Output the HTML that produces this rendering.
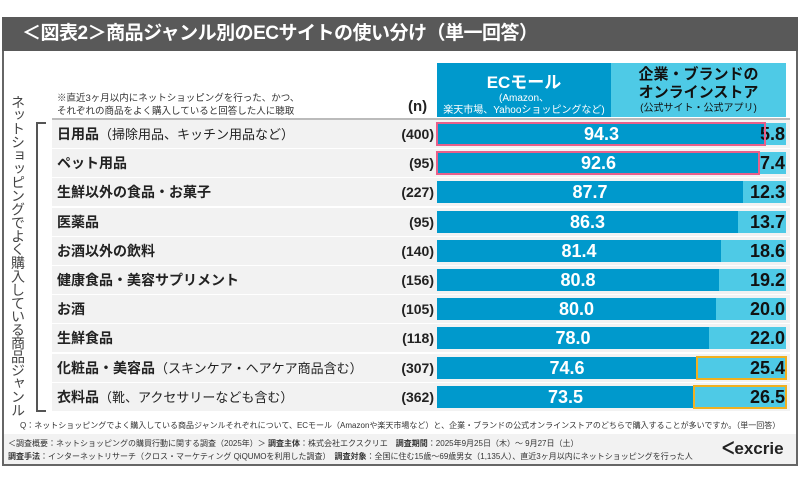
<!DOCTYPE html>
<html><head><meta charset="utf-8"><style>
*{margin:0;padding:0;box-sizing:border-box}
body{width:800px;height:488px;background:#fff;font-family:"Liberation Sans","Noto Sans CJK JP",sans-serif;position:relative;overflow:hidden;color:#222}
.a{position:absolute}
.frame{left:2px;top:17px;width:796px;height:449px;border:2px solid #666;background:#fff}
.title{left:2px;top:17px;width:796px;height:34px;background:#595959;color:#fff;font-size:19px;font-weight:bold;line-height:34px;padding-left:20px;letter-spacing:-0.5px}
.row{left:52px;width:738px;height:28px;background:#f2f2f2}
.lab{left:57px;font-size:14px;font-weight:bold;line-height:28px;white-space:nowrap}
.lab span{font-weight:normal;font-size:13px}
.n{left:360px;width:74px;text-align:right;font-size:14px;font-weight:bold;line-height:28px}
.d{background:#0099cc;color:#fff;font-size:18px;font-weight:bold;text-align:center;line-height:22px;height:22px}
.l{background:#4ecae6;color:#111;font-size:18px;font-weight:bold;text-align:right;line-height:22px;height:22px;padding-right:1px;overflow:visible;white-space:nowrap}
</style></head><body>
<div class="a frame"></div>
<div class="a title">＜図表2＞商品ジャンル別のECサイトの使い分け（単一回答）</div>
<div class="a" style="left:57px;top:92px;font-size:9.5px;line-height:13px;color:#333">※直近3ヶ月以内にネットショッピングを行った、かつ、<br>それぞれの商品をよく購入していると回答した人に聴取</div>
<div class="a" style="left:408px;top:98px;font-size:15px;font-weight:bold">(n)</div>
<div class="a" style="left:437px;top:63px;width:174px;height:54px;background:#0099cc;color:#fff;text-align:center">
<div style="font-size:17px;font-weight:bold;margin-top:5px">ECモール</div>
<div style="font-size:10px;line-height:12px">(Amazon、<br>楽天市場、Yahooショッピングなど)</div></div>
<div class="a" style="left:611px;top:63px;width:175px;height:54px;background:#4ecae6;color:#111;text-align:center">
<div style="font-size:15px;font-weight:bold;line-height:18px;margin-top:3px">企業・ブランドの<br>オンラインストア</div>
<div style="font-size:10px;line-height:13px">(公式サイト・公式アプリ)</div></div>
<div class="a" style="left:52px;top:118px;width:738px;height:2px;background:#bbb"></div>
<div class="a" style="left:9px;top:95px;height:325px;font-size:14px;line-height:17px;letter-spacing:-0.6px;color:#444;writing-mode:vertical-rl;white-space:nowrap">ネットショッピングでよく購入している商品ジャンル</div>
<div class="a" style="left:36px;top:122px;width:10px;height:290px;border:2px solid #555;border-right:none"></div>
<div id="rows"></div>
<div class="a" style="left:20px;top:420px;font-size:8px;color:#333;white-space:nowrap">Q：ネットショッピングでよく購入している商品ジャンルそれぞれについて、ECモール（Amazonや楽天市場など）と、企業・ブランドの公式オンラインストアのどちらで購入することが多いですか。（単一回答）</div>
<div class="a" style="left:4px;top:434px;width:792px;height:30px;background:#f2f2f2"></div>
<div class="a" style="left:8px;top:437px;font-size:8px;color:#333;line-height:13px;white-space:nowrap">＜調査概要：ネットショッピングの購買行動に関する調査（2025年）＞ <b>調査主体</b>：株式会社エクスクリエ　<b>調査期間</b>：2025年9月25日（木）～ 9月27日（土）<br><b>調査手法</b>：インターネットリサーチ（クロス・マーケティング QiQUMOを利用した調査）　<b>調査対象</b>：全国に住む15歳～69歳男女（1,135人）、直近3ヶ月以内にネットショッピングを行った人</div>
<div class="a" style="left:722px;top:439px;font-size:17px;font-weight:bold;color:#222">ᐸexcrie</div>
<script>
var d=[["日用品","（掃除用品、キッチン用品など）",400,"94.3","5.8"],["ペット用品","",95,"92.6","7.4"],["生鮮以外の食品・お菓子","",227,"87.7","12.3"],["医薬品","",95,"86.3","13.7"],["お酒以外の飲料","",140,"81.4","18.6"],["健康食品・美容サプリメント","",156,"80.8","19.2"],["お酒","",105,"80.0","20.0"],["生鮮食品","",118,"78.0","22.0"],["化粧品・美容品","（スキンケア・ヘアケア商品含む）",307,"74.6","25.4"],["衣料品","（靴、アクセサリーなども含む）",362,"73.5","26.5"]];
var h="",W=349,X=437;
d.forEach(function(r,i){var y=120+i*29.2;var w=Math.round(W*parseFloat(r[3])/100);
h+='<div class="a row" style="top:'+y+'px"></div>';
h+='<div class="a lab" style="top:'+y+'px">'+r[0]+'<span>'+r[1]+'</span></div>';
h+='<div class="a n" style="top:'+y+'px">('+r[2]+')</div>';
h+='<div class="a d" style="left:'+X+'px;top:'+(y+3)+'px;width:'+w+'px">'+r[3]+'</div>';
h+='<div class="a l" style="left:'+(X+w)+'px;top:'+(y+3)+'px;width:'+(W-w)+'px;direction:rtl">'+r[4]+'</div>';
if(i<2)h+='<div class="a" style="left:'+(X-1)+'px;top:'+(y+2)+'px;width:'+(w+1)+'px;height:24px;border:2px solid #e8608a"></div>';
if(i>7)h+='<div class="a" style="left:'+(X+w-1)+'px;top:'+(y+2)+'px;width:'+(W-w+2)+'px;height:24px;border:2px solid #f0b020"></div>';
});
document.getElementById("rows").innerHTML=h;
</script>
</body></html>
